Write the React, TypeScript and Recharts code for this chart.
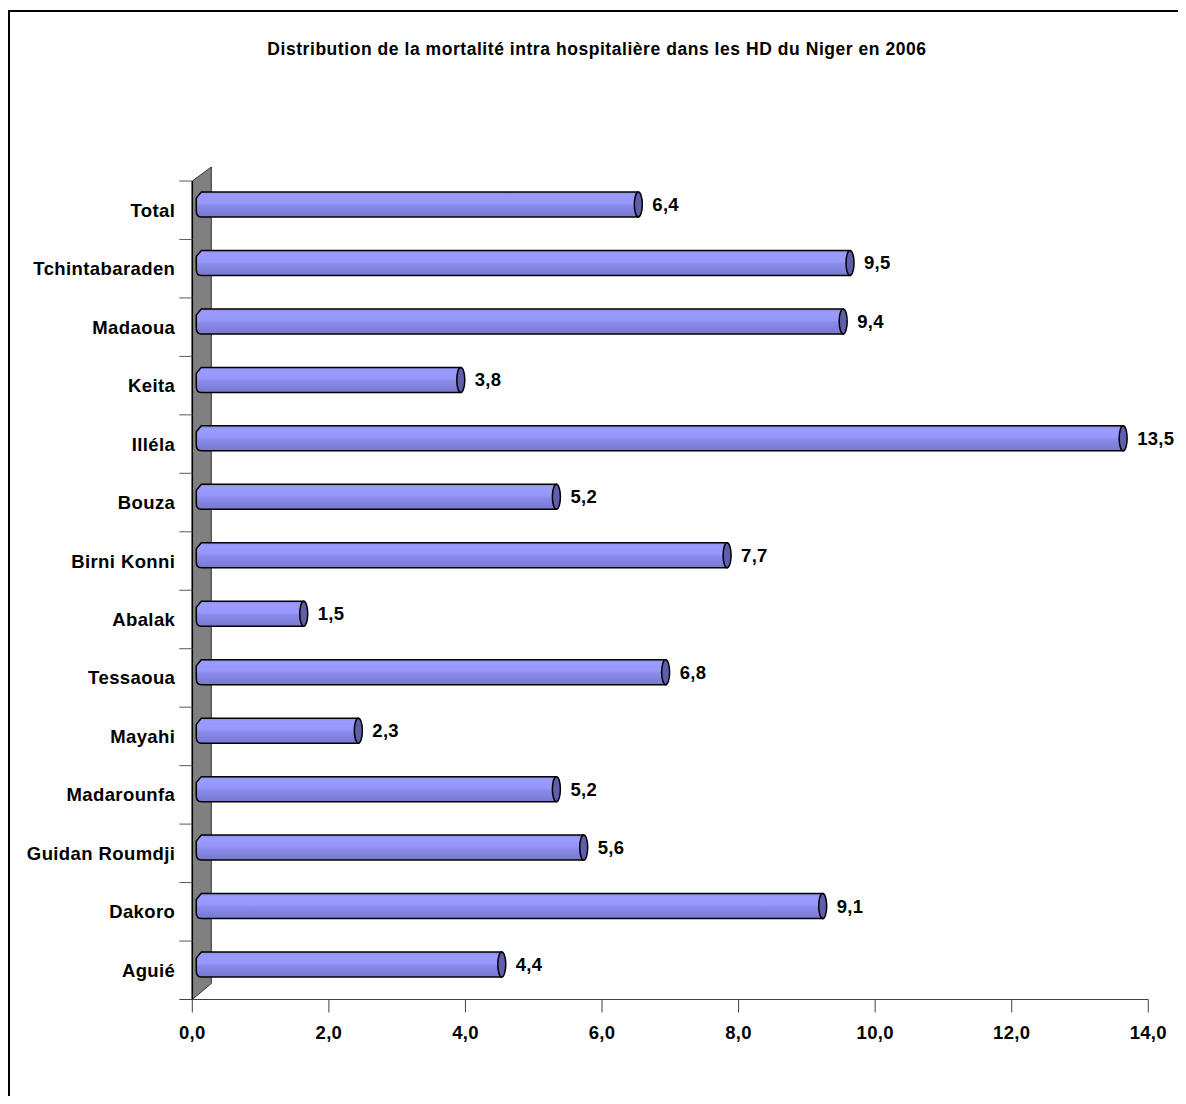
import React from 'react';
import { BarChart, Bar, XAxis, YAxis, ReferenceArea } from 'recharts';

const categories = [
  'Total', 'Tchintabaraden', 'Madaoua', 'Keita', 'Illéla', 'Bouza', 'Birni Konni',
  'Abalak', 'Tessaoua', 'Mayahi', 'Madarounfa', 'Guidan Roumdji', 'Dakoro', 'Aguié',
];
const values = [6.4, 9.5, 9.4, 3.8, 13.5, 5.2, 7.7, 1.5, 6.8, 2.3, 5.2, 5.6, 9.1, 4.4];
const xTicks = [0, 2, 4, 6, 8, 10, 12, 14];
const title = 'Distribution de la mortalité intra hospitalière dans les HD du Niger en 2006';

const data = categories.map((name, i) => ({ name, value: values[i] }));

const FONT = '"Liberation Sans", Arial, sans-serif';
const fmt = (v: number) => v.toFixed(1).replace('.', ',');

const BarShape = (props: any) => {
  const { x, y, width, height, index } = props;
  const top = y - 6;
  const bot = top + height;
  const x0 = x + 4;
  const xe = x + width + 9;
  const id = `bg${index}`;
  return (
    <g>
      <defs>
        <linearGradient id={id} x1="0" y1="0" x2="0" y2="1">
          <stop offset="0%" stopColor="#8a8aee" />
          <stop offset="12%" stopColor="#9c9cff" />
          <stop offset="45%" stopColor="#9696fb" />
          <stop offset="55%" stopColor="#8a8aea" />
          <stop offset="100%" stopColor="#7878d0" />
        </linearGradient>
      </defs>
      <path
        d={`M${x0 + 5},${top} L${xe},${top} L${xe},${bot} L${x0 + 5},${bot} Q${x0},${bot} ${x0},${bot - 6} L${x0},${top + 6} Z`}
        fill={`url(#${id})`}
        stroke="#000"
        strokeWidth={1.5}
      />
      <ellipse cx={xe} cy={(top + bot) / 2} rx={4} ry={height / 2} fill="#5e5eaa" stroke="#000" strokeWidth={1.5} />
    </g>
  );
};

const WallShape = (props: any) => {
  const { x, y, height } = props;
  const d = 19;
  return (
    <g>
      <polygon
        points={`${x},${y} ${x + d},${y - 14} ${x + d},${y + height - 16} ${x},${y + height}`}
        fill="#808080"
        stroke="#333"
        strokeWidth={1}
      />
      <line x1={x} y1={y} x2={x} y2={y + height} stroke="#000" strokeWidth={1.5} />
    </g>
  );
};

const YTick = (props: any) => {
  const { x, y, payload, index } = props;
  const off = payload && payload.offset ? payload.offset : 29.2;
  return (
    <g>
      <line x1={x - 13} x2={x} y1={y - off} y2={y - off} stroke="#595959" strokeWidth={1} />
      {index === categories.length - 1 && (
        <line x1={x - 13} x2={x} y1={y + off} y2={y + off} stroke="#404040" strokeWidth={1} />
      )}
      <text x={x - 17} y={y + 6.5} textAnchor="end" fontFamily={FONT} fontWeight="bold" fontSize={18.5} letterSpacing={0.4} fill="#000">
        {payload.value}
      </text>
    </g>
  );
};

const XTick = (props: any) => {
  const { x, y, payload } = props;
  return (
    <text x={x} y={y + 24} textAnchor="middle" fontFamily={FONT} fontWeight="bold" fontSize={18.5} letterSpacing={0.3} fill="#000">
      {fmt(payload.value)}
    </text>
  );
};

const ValueLabel = (props: any) => {
  const { x, y, width, height, value } = props;
  return (
    <text x={x + width + 23} y={y + height / 2 + 0.5} textAnchor="start" fontFamily={FONT} fontWeight="bold" fontSize={18.5} letterSpacing={0.3} fill="#000">
      {fmt(value)}
    </text>
  );
};

export default function App() {
  return (
    <div style={{ position: 'relative', width: 1170, height: 1088, fontFamily: FONT }}>
      <div
        style={{
          position: 'absolute', left: 0, top: 2, width: 1178, height: 1086,
          borderTop: '2px solid #000', borderLeft: '2px solid #000', boxSizing: 'border-box',
        }}
      />
      <div
        style={{
          position: 'absolute', left: 0, top: 31, width: 1178, textAlign: 'center',
          fontWeight: 'bold', fontSize: 17.5, letterSpacing: 0.55, color: '#000', whiteSpace: 'nowrap',
        }}
      >
        {title}
      </div>
      <div style={{ position: 'absolute', left: 0, top: 0 }}>
        <BarChart
          width={1170}
          height={1088}
          data={data}
          layout="vertical"
          margin={{ top: 173, right: 29.7, bottom: 6.5, left: 0 }}
          barSize={25}
        >
          <XAxis
            type="number"
            domain={[0, 14]}
            ticks={xTicks}
            interval={0}
            height={90}
            tick={<XTick />}
            tickSize={13}
            tickMargin={2}
            axisLine={{ stroke: '#404040', strokeWidth: 1 }}
            tickLine={{ stroke: '#404040', strokeWidth: 1 }}
          />
          <YAxis
            type="category"
            dataKey="name"
            width={184.3}
            interval={0}
            tick={<YTick />}
            tickSize={0}
            tickMargin={0}
            tickLine={false}
            axisLine={false}
          />
          <ReferenceArea x1={0} x2={0.28} shape={<WallShape />} ifOverflow="visible" />
          <Bar dataKey="value" isAnimationActive={false} shape={<BarShape />} label={<ValueLabel />} />
        </BarChart>
      </div>
    </div>
  );
}
